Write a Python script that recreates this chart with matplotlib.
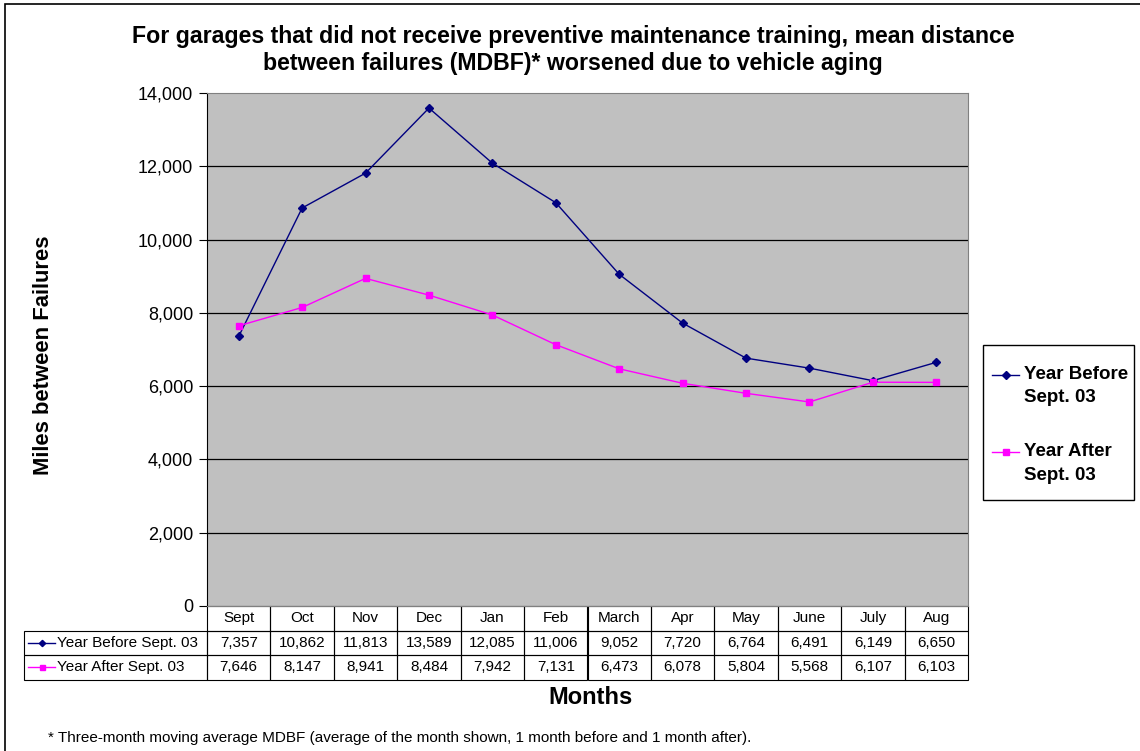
import numpy as np
import matplotlib
matplotlib.use("Agg")
import matplotlib.pyplot as plt
from matplotlib.lines import Line2D
from matplotlib.patches import Rectangle

plt.rcParams["font.family"] = ["Liberation Sans", "DejaVu Sans"]

MONTHS = ["Sept", "Oct", "Nov", "Dec", "Jan", "Feb", "March", "Apr", "May", "June", "July", "Aug"]
BEFORE = [7357, 10862, 11813, 13589, 12085, 11006, 9052, 7720, 6764, 6491, 6149, 6650]
AFTER = [7646, 8147, 8941, 8484, 7942, 7131, 6473, 6078, 5804, 5568, 6107, 6103]
SERIES = [("Year Before Sept. 03", ["Year Before", "Sept. 03"], BEFORE, "#000080", "D", 4),
          ("Year After Sept. 03", ["Year After", "Sept. 03"], AFTER, "#FF00FF", "s", 4.5)]

W, H = 1140, 751
fig = plt.figure(figsize=(W / 100, H / 100), dpi=100)
fig.patches.append(Rectangle((5 / W, -0.1), 1.2, 1 - 4 / H + 0.1, transform=fig.transFigure,
                             fill=False, ec="black", lw=1.2))

x0, x1, ytop, ybot = 207, 968, 93, 606
ax = fig.add_axes([x0 / W, 1 - ybot / H, (x1 - x0) / W, (ybot - ytop) / H])
ax.set_facecolor("#C0C0C0")
for s in ax.spines.values():
    s.set_color("#808080")
ax.spines["left"].set_color("black")

x = np.arange(len(MONTHS)) + 0.5
for lab, leglab, vals, col, mk, ms in SERIES:
    ax.plot(x, vals, color=col, marker=mk, ms=ms, lw=1.0)
ax.set_xlim(0, len(MONTHS))
ax.set_ylim(0, 14000)
ax.set_yticks(range(0, 14001, 2000))
ax.set_yticklabels([f"{v:,}" for v in range(0, 14001, 2000)], fontsize=13)
ax.tick_params(axis="y", direction="out", length=6, color="black", pad=4)
ax.set_xticks([])
for v in range(2000, 14000, 2000):
    ax.axhline(v, color="black", lw=0.9, zorder=0.5)

# data table under the plot
FS = 11
rowh = 24.5 / (ybot - ytop)
cw = 1.0 / len(MONTHS)
lab_l = (24 - x0) / (x1 - x0)
for i, m in enumerate(MONTHS):
    ax.add_patch(Rectangle((i * cw, -rowh), cw, rowh, transform=ax.transAxes, fill=False,
                           ec="black", lw=0.8, clip_on=False))
    ax.text((i + 0.5) * cw, -rowh / 2, m, transform=ax.transAxes, ha="center", va="center", fontsize=FS)
for r, (lab, leglab, vals, col, mk, ms) in enumerate(SERIES):
    yb = -rowh * (r + 2)
    ax.add_patch(Rectangle((lab_l, yb), -lab_l, rowh, transform=ax.transAxes, fill=False,
                           ec="black", lw=0.8, clip_on=False))
    ax.add_line(Line2D([lab_l + 0.005, lab_l + 0.041], [yb + rowh / 2] * 2, transform=ax.transAxes,
                       color=col, lw=1.0, clip_on=False))
    ax.add_line(Line2D([lab_l + 0.023], [yb + rowh / 2], transform=ax.transAxes,
                       color=col, marker=mk, ms=ms * 0.8, clip_on=False))
    ax.text(lab_l + 0.043, yb + rowh / 2, lab, transform=ax.transAxes, ha="left", va="center", fontsize=FS)
    for i, v in enumerate(vals):
        ax.add_patch(Rectangle((i * cw, yb), cw, rowh, transform=ax.transAxes, fill=False,
                               ec="black", lw=0.8, clip_on=False))
        ax.text((i + 0.5) * cw, yb + rowh / 2, f"{v:,}", transform=ax.transAxes,
                ha="center", va="center", fontsize=FS)

fig.text(573 / W, 1 - 50 / H, "For garages that did not receive preventive maintenance training, mean distance\n"
         "between failures (MDBF)* worsened due to vehicle aging",
         ha="center", va="center", fontsize=16.7, fontweight="bold", linespacing=1.2)
fig.text(44 / W, 1 - 355 / H, "Miles between Failures", rotation=90, ha="center", va="center",
         fontsize=15.8, fontweight="bold")
fig.text(590 / W, 1 - 698 / H, "Months", ha="center", va="center", fontsize=17, fontweight="bold")
fig.text(48 / W, 1 - 738 / H, "* Three-month moving average MDBF (average of the month shown, 1 month before and 1 month after).",
         ha="left", va="center", fontsize=11)

# legend box on the right
fig.patches.append(Rectangle((983 / W, 1 - 500 / H), 151 / W, 155 / H, transform=fig.transFigure,
                             fill=False, ec="black", lw=1.0))
for (lab, leglab, vals, col, mk, ms), ly in zip(SERIES, [375, 452]):
    fig.add_artist(Line2D([992 / W, 1019 / W], [1 - ly / H] * 2, color=col, lw=1.0))
    fig.add_artist(Line2D([1005.5 / W], [1 - ly / H], color=col, marker=mk, ms=ms * 0.9))
    for k, line in enumerate(leglab):
        fig.text(1024 / W, 1 - (ly + k * 23) / H, line, ha="left", va="center", fontsize=13.5,
                 fontweight="bold")

fig.savefig("out.png", dpi=100)
